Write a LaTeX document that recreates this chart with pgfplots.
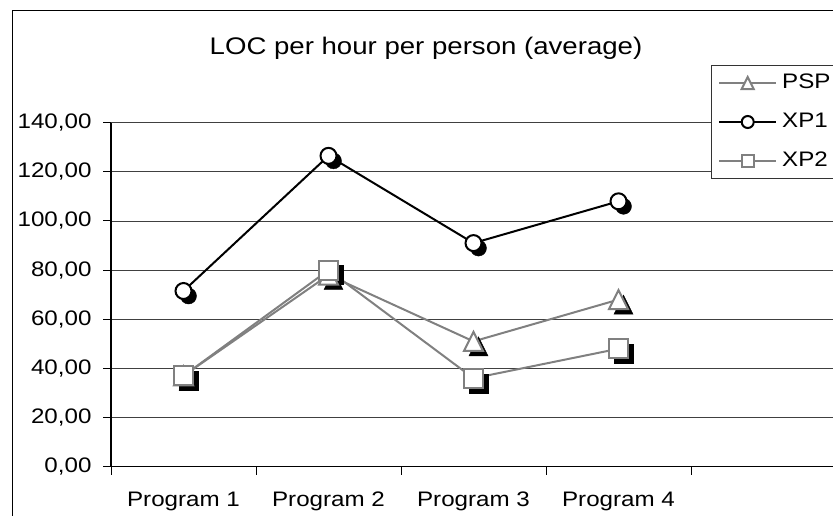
\documentclass[border=0pt]{standalone}
\usepackage{fontspec}
\setmainfont{Liberation Sans}[FakeStretch=1.15]
\usepackage{pgfplots}
\usepackage{pgfplotstable}
\pgfplotsset{compat=1.18}

\definecolor{linegray}{RGB}{128,128,128}

% triangle marker as wide as it is tall
\pgfdeclareplotmark{xltri}{%
  \pgfpathmoveto{\pgfqpoint{0pt}{\pgfplotmarksize}}%
  \pgfpathlineto{\pgfqpoint{-\pgfplotmarksize}{-\pgfplotmarksize}}%
  \pgfpathlineto{\pgfqpoint{\pgfplotmarksize}{-\pgfplotmarksize}}%
  \pgfpathclose
  \pgfusepathqfillstroke}

\pgfplotstableread{
x PSP XP1 XP2
1 37 71.5 37
2 78 126.5 80
3 51 91 36
4 68 108 48
}\loctable

\begin{document}
\begin{tikzpicture}[x=1bp,y=1bp]
% chart frame
\draw[black, line width=1bp] (12,-5) -- (12,505) -- (845,505);
\node[anchor=base, font=\fontsize{24bp}{29bp}\selectfont] at (426,461) {LOC per hour per person (average)};
\begin{axis}[
  at={(111bp,49.3bp)}, anchor=south west, scale only axis,
  width=725bp, height=344bp,
  xmin=0.5, xmax=5.5, ymin=0, ymax=140,
  axis x line*=bottom, axis y line*=left,
  axis line style={-, black, line width=1.2bp},
  xtick={0.5,1.5,...,5.5},
  xticklabels={Program 1,Program 2,Program 3,Program 4,{}},
  x tick label as interval,
  ytick={0,20,...,140},
  ymajorgrids, grid style={black!75, line width=0.9bp},
  tick align=outside, major tick length=8bp,
  tick style={black, line width=1bp},
  ticklabel style={font=\fontsize{21bp}{25bp}\selectfont},
  xticklabel style={yshift=-14bp},
  yticklabel style={xshift=-8bp, /pgf/number format/.cd, fixed, fixed zerofill, precision=2, use comma, assume math mode=true},
  legend style={at={(rel axis cs:0.8272,1.1677)}, anchor=north west,
    draw=black!80, line width=1bp, fill=white,
    font=\fontsize{21bp}{25bp}\selectfont,
    inner xsep=7bp, inner ysep=8bp, row sep=20bp, column sep=5bp,
    nodes={inner sep=0pt, text height=15bp, text depth=4bp},
    cells={anchor=west}},
  legend image code/.code={%
    \draw[#1, mark size=6bp, mark repeat=2, mark phase=2]
      plot coordinates {(0bp,0bp) (28.5bp,0bp) (57bp,0bp)};},
]
% marker shadows
\addplot[forget plot, only marks, mark=xltri, mark size=9.5bp, draw=black, fill=black, xshift=5bp, yshift=-5bp] table[x=x, y=PSP] {\loctable};
\addplot[forget plot, only marks, mark=*, mark size=8bp, draw=black, fill=black, xshift=5bp, yshift=-5bp] table[x=x, y=XP1] {\loctable};
\addplot[forget plot, only marks, mark=square*, mark size=9.5bp, draw=black, fill=black, xshift=5bp, yshift=-5bp] table[x=x, y=XP2] {\loctable};
% series
\addplot[linegray, line width=2bp, mark=xltri, mark size=9.5bp, mark options={fill=white, draw=linegray}] table[x=x, y=PSP] {\loctable};
\addlegendentry{PSP}
\addplot[black, line width=2bp, mark=*, mark size=8bp, mark options={fill=white, draw=black}] table[x=x, y=XP1] {\loctable};
\addlegendentry{XP1}
\addplot[linegray, line width=2bp, mark=square*, mark size=9.5bp, mark options={fill=white, draw=linegray}] table[x=x, y=XP2] {\loctable};
\addlegendentry{XP2}
\end{axis}
\pgfresetboundingbox
\useasboundingbox (0,0) rectangle (833,516);
\end{tikzpicture}
\end{document}
